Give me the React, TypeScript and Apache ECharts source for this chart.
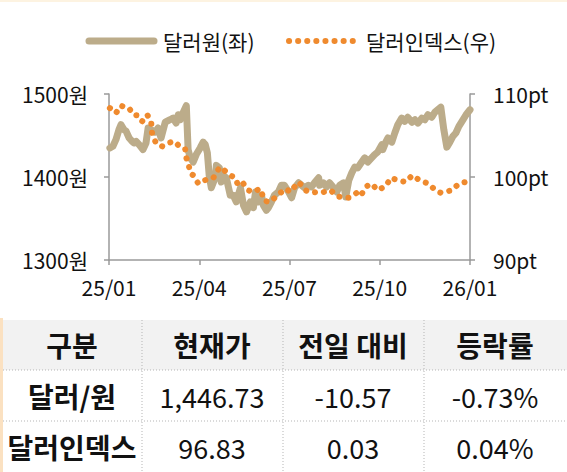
import React, { useEffect, useRef } from "react";
import * as echarts from "echarts";

const xTickLabels = ["25/01", "25/04", "25/07", "25/10", "26/01"];
const legendNames = ["달러원(좌)", "달러인덱스(우)"];

// 달러/원 (months since 2025-01)
const krwMonth = [
  0.03, 0.13, 0.23, 0.33, 0.4, 0.5, 0.57, 0.67, 0.77, 0.83, 0.9, 1.0, 1.13, 1.23, 1.3, 1.4, 1.53, 1.63,
  1.73, 1.87, 2.03, 2.13, 2.23, 2.3, 2.37, 2.47, 2.57, 2.63, 2.7, 2.8, 2.9, 3.03, 3.13, 3.2, 3.27, 3.33,
  3.4, 3.53, 3.57, 3.67, 3.73, 3.8, 3.9, 4.03, 4.13, 4.23, 4.37, 4.47, 4.57, 4.7, 4.8, 4.87, 4.97, 5.07,
  5.13, 5.23, 5.3, 5.4, 5.5, 5.63, 5.73, 5.83, 5.97, 6.07, 6.17, 6.3, 6.4, 6.5, 6.63, 6.73, 6.83, 6.97,
  7.0, 7.13, 7.23, 7.33, 7.47, 7.57, 7.67, 7.8, 7.87, 7.97, 8.07, 8.17, 8.27, 8.4, 8.5, 8.6, 8.73, 8.83,
  8.93, 9.07, 9.1, 9.2, 9.27, 9.4, 9.5, 9.6, 9.73, 9.83, 9.93, 10.07, 10.17, 10.27, 10.4, 10.5, 10.6,
  10.73, 10.83, 10.93, 11.03, 11.13, 11.23, 11.33, 11.43, 11.53, 11.63, 11.77, 11.87, 12.0,
];
const krwValue = [
  1435, 1437, 1445, 1457, 1463, 1457, 1455, 1447, 1443, 1441, 1443, 1439, 1433, 1441, 1459, 1457, 1454, 1459,
  1447, 1466, 1469, 1471, 1465, 1475, 1469, 1478, 1486, 1433, 1423, 1418, 1427, 1435, 1442, 1439, 1429, 1402,
  1387, 1399, 1414, 1411, 1394, 1402, 1399, 1378, 1378, 1370, 1387, 1366, 1358, 1370, 1363, 1382, 1370, 1378,
  1366, 1360, 1363, 1370, 1378, 1382, 1390, 1390, 1382, 1375, 1387, 1393, 1390, 1387, 1390, 1388, 1393, 1399,
  1390, 1393, 1388, 1393, 1387, 1382, 1390, 1393, 1376, 1396, 1405, 1412, 1411, 1418, 1423, 1418, 1423, 1427,
  1430, 1439, 1433, 1442, 1447, 1442, 1453, 1463, 1471, 1467, 1472, 1466, 1469, 1465, 1471, 1469, 1475,
  1472, 1478, 1481, 1484, 1457, 1436, 1442, 1449, 1453, 1461, 1469, 1475, 1481,
];

// 달러인덱스 (months since 2025-01)
const dxyMonth = [
  0.03, 0.23, 0.4, 0.53, 0.67, 0.8, 0.97, 1.1, 1.27, 1.4, 1.43, 1.57, 1.77, 1.97, 2.17, 2.37, 2.53, 2.57,
  2.63, 2.7, 2.8, 2.97, 3.13, 3.3, 3.47, 3.57, 3.7, 3.9, 4.03, 4.2, 4.3, 4.47, 4.63, 4.8, 5.03, 5.17, 5.37,
  5.6, 5.87, 6.03, 6.3, 6.4, 6.53, 6.73, 6.9, 7.07, 7.23, 7.37, 7.57, 7.8, 7.97, 8.13, 8.27, 8.37, 8.57,
  8.73, 8.93, 9.2, 9.37, 9.6, 9.87, 10.08, 10.37, 10.63, 10.87, 11.03, 11.4, 11.63, 11.97,
];
const dxyValue = [
  108.3, 107.7, 108.6, 108.4, 108.3, 107.5, 107.4, 106.7, 107.5, 106.7, 105.3, 104.0, 103.7, 104.1, 104.3,
  103.6, 103.4, 102.3, 101.8, 100.5, 100.2, 99.2, 99.5, 99.8, 99.9, 100.6, 101.2, 100.6, 100.2, 99.9, 98.9,
  99.2, 98.4, 98.2, 98.6, 97.1, 97.0, 97.8, 98.6, 98.2, 99.4, 99.0, 98.4, 98.1, 98.2, 98.1, 98.3, 98.4, 97.7,
  97.5, 97.5, 97.8, 98.2, 97.8, 98.9, 99.2, 98.4, 98.9, 99.9, 99.6, 99.4, 100.2, 99.5, 99.2, 98.3, 98.1,
  98.4, 99.2, 99.5,
];

const tableHeader = ["구분", "현재가", "전일 대비", "등락률"];
const tableRows = [
  ["달러/원", "1,446.73", "-10.57", "-0.73%"],
  ["달러인덱스", "96.83", "0.03", "0.04%"],
];

const FONT = '"Noto Sans CJK KR", "Noto Sans", sans-serif';
const KRW_COLOR = "#bcac8a";
const DXY_COLOR = "#ef8a2e";
const AXIS_COLOR = "#9a9a9a";
const TEXT_COLOR = "#111111";
const DXY_DASH = [0.1, 9];

export default function App() {
  const ref = useRef<HTMLDivElement>(null);

  useEffect(() => {
    if (!ref.current) return;
    const chart = echarts.init(ref.current, undefined, { renderer: "svg" });

    const colX = [72, 212, 353, 495];
    const rowY = [345, 396, 447];
    const graphic: any[] = [
      { type: "rect", shape: { x: 0, y: 0, width: 567, height: 2 }, style: { fill: "#fdf3e1" }, silent: true },
      { type: "rect", shape: { x: 3, y: 320, width: 564, height: 50 }, style: { fill: "#f2f2f2" }, silent: true },
      { type: "rect", shape: { x: 0, y: 318, width: 3, height: 154 }, style: { fill: "#fbe1c1" }, silent: true },
      // legend
      {
        type: "line",
        shape: { x1: 89, y1: 41, x2: 154, y2: 41 },
        style: { stroke: KRW_COLOR, lineWidth: 7, lineCap: "round" },
        silent: true,
      },
      {
        type: "text",
        x: 163,
        y: 41,
        style: {
          text: legendNames[0],
          fill: TEXT_COLOR,
          fontFamily: FONT,
          fontSize: 21,
          align: "left",
          verticalAlign: "middle",
        },
      },
      {
        type: "line",
        shape: { x1: 289, y1: 41, x2: 354, y2: 41 },
        style: { stroke: DXY_COLOR, lineWidth: 6, lineCap: "round", lineDash: DXY_DASH },
        silent: true,
      },
      {
        type: "text",
        x: 366,
        y: 41,
        style: {
          text: legendNames[1],
          fill: TEXT_COLOR,
          fontFamily: FONT,
          fontSize: 21,
          align: "left",
          verticalAlign: "middle",
        },
      },
    ];
    [370, 421].forEach((y) =>
      graphic.push({
        type: "line",
        shape: { x1: 3, y1: y, x2: 567, y2: y },
        style: { stroke: "#b5b5b5", lineWidth: 1, lineDash: [1, 2] },
        silent: true,
      })
    );
    [142, 283, 424].forEach((x) =>
      graphic.push({
        type: "line",
        shape: { x1: x, y1: 320, x2: x, y2: 472 },
        style: { stroke: "#b5b5b5", lineWidth: 1, lineDash: [1, 2] },
        silent: true,
      })
    );
    tableHeader.forEach((t, i) =>
      graphic.push({
        type: "text",
        x: colX[i],
        y: rowY[0],
        style: {
          text: t,
          fill: TEXT_COLOR,
          fontFamily: FONT,
          fontSize: 28,
          fontWeight: "bold",
          align: "center",
          verticalAlign: "middle",
        },
      })
    );
    tableRows.forEach((row, r) =>
      row.forEach((t, i) =>
        graphic.push({
          type: "text",
          x: colX[i],
          y: rowY[r + 1],
          style: {
            text: t,
            fill: TEXT_COLOR,
            fontFamily: FONT,
            fontSize: i === 0 ? 28 : 27,
            fontWeight: i === 0 ? "bold" : "normal",
            align: "center",
            verticalAlign: "middle",
          },
        })
      )
    );

    const option: any = {
      animation: false,
      textStyle: { fontFamily: FONT },
      grid: { left: 109, right: 97, top: 94, bottom: 212 },
      xAxis: {
        type: "value",
        min: 0,
        max: 12,
        interval: 3,
        axisLine: { lineStyle: { color: AXIS_COLOR, width: 1.5 } },
        axisTick: { show: true, length: 5, lineStyle: { color: AXIS_COLOR, width: 1.5 } },
        axisLabel: {
          formatter: (v: number) => xTickLabels[Math.round(v / 3)] ?? "",
          fontSize: 21,
          color: TEXT_COLOR,
          fontFamily: FONT,
          margin: 16,
        },
        splitLine: { show: false },
      },
      yAxis: [
        {
          type: "value",
          min: 1300,
          max: 1500,
          interval: 100,
          position: "left",
          axisLine: { show: true, lineStyle: { color: AXIS_COLOR, width: 1.5 } },
          axisTick: { show: true, length: 5, lineStyle: { color: AXIS_COLOR, width: 1.5 } },
          axisLabel: {
            formatter: (v: number) => `${v}원`,
            fontSize: 21,
            color: TEXT_COLOR,
            fontFamily: FONT,
            margin: 21,
          },
          splitLine: { show: false },
        },
        {
          type: "value",
          min: 90,
          max: 110,
          interval: 10,
          position: "right",
          axisLine: { show: true, lineStyle: { color: AXIS_COLOR, width: 1.5 } },
          axisTick: { show: true, length: 5, lineStyle: { color: AXIS_COLOR, width: 1.5 } },
          axisLabel: {
            formatter: (v: number) => `${v}pt`,
            fontSize: 21,
            color: TEXT_COLOR,
            fontFamily: FONT,
            margin: 23,
          },
          splitLine: { show: false },
        },
      ],
      series: [
        {
          type: "line",
          name: legendNames[0],
          yAxisIndex: 0,
          data: krwMonth.map((m, i) => [m, krwValue[i]]),
          symbol: "none",
          lineStyle: { color: KRW_COLOR, width: 7, cap: "round", join: "round" },
          itemStyle: { color: KRW_COLOR },
        },
        {
          type: "line",
          name: legendNames[1],
          yAxisIndex: 1,
          data: dxyMonth.map((m, i) => [m, dxyValue[i]]),
          symbol: "none",
          lineStyle: { color: DXY_COLOR, width: 6, cap: "round", join: "round", type: DXY_DASH },
          itemStyle: { color: DXY_COLOR },
        },
      ],
      graphic,
    };

    chart.setOption(option);
    return () => chart.dispose();
  }, []);

  return (
    <div
      ref={ref}
      style={{ position: "fixed", left: 0, top: 0, width: 567, height: 472, background: "#ffffff" }}
    />
  );
}
